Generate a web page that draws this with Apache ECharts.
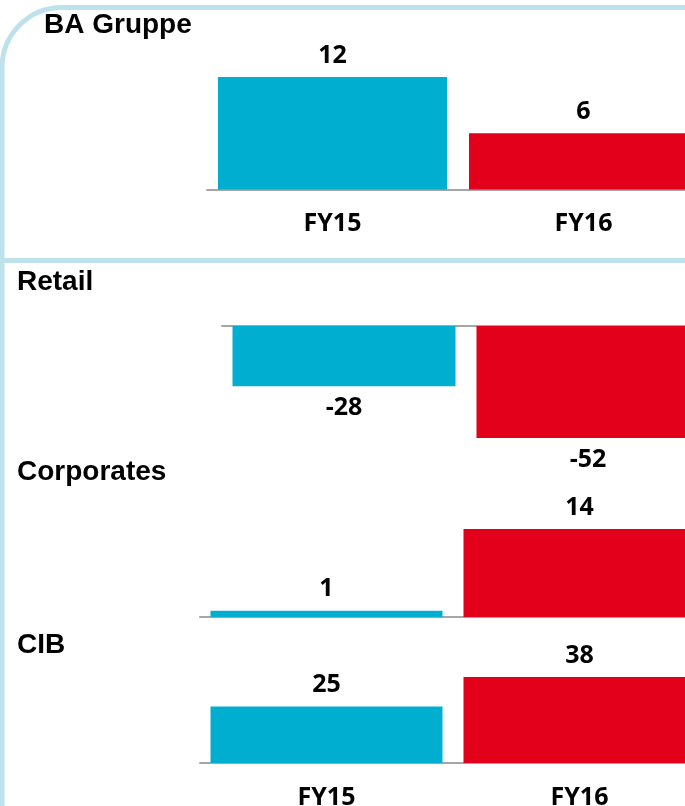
<!DOCTYPE html>
<html>
<head>
<meta charset="utf-8">
<script src="https://cdn.jsdelivr.net/npm/echarts@6/dist/echarts.min.js"></script>
<style>
  html, body {margin: 0; padding: 0; background: #fff;}
  #chart {width: 685px; height: 806px;}
</style>
</head>
<body>
<div id="chart"></div>
<script>
const categories = ["FY15", "FY16"];
const segments = ["BA Gruppe", "Retail", "Corporates", "CIB"];
const baGruppe = [12, 6];
const retail = [-28, -52];
const corporates = [1, 14];
const cib = [25, 38];

const barColors = ["#00AFD0", "#E2001A"];
const frameColor = "#BDE2EC";
const labelFont = "Open Sans";

// one small chart per segment, each with its own scale
const panels = [
    {data: baGruppe,   left: 207, width: 502, top: 77,  height: 112.5, min: 0,   max: 12, barWidth: 229, cats: true},
    {data: retail,     left: 222, width: 488, top: 326, height: 112,   min: -52, max: 0,  barWidth: 223, cats: false},
    {data: corporates, left: 200, width: 506, top: 529, height: 88,    min: 0,   max: 14, barWidth: 232, cats: false},
    {data: cib,        left: 200, width: 506, top: 677, height: 86,    min: 0,   max: 38, barWidth: 232, cats: true}
];
const titlePos = [[44, 25], [17, 282], [17, 472], [17, 645]];


function buildOption(){
    const grid = [], xAxis = [], yAxis = [], series = [];

    panels.forEach((p, i) => {
        grid.push({left: p.left, top: p.top, width: p.width, height: p.height,
                   containLabel: false, outerBoundsMode: "none"});
        xAxis.push({
            type: "category", gridIndex: i, data: categories,
            axisLine: {show: true, onZero: true, lineStyle: {color: "#A6A6A6", width: 2}},
            axisTick: {show: false},
            axisLabel: {show: p.cats, margin: 22, color: "#000", fontFamily: labelFont,
                        fontWeight: "bold", fontSize: 25}
        });
        yAxis.push({type: "value", gridIndex: i, min: p.min, max: p.max, show: false,
                    splitLine: {show: false}});
        series.push({
            type: "bar", xAxisIndex: i, yAxisIndex: i,
            data: p.data, barWidth: p.barWidth,
            itemStyle: {color: (params) => barColors[params.dataIndex]},
            label: {
                show: true, position: p.min < 0 ? "bottom" : "top", distance: 9,
                color: "#000", fontFamily: labelFont, fontWeight: "bold", fontSize: 25
            },
            animation: false
        });
    });

    const graphic = [
        // rounded panel frame
        {type: "rect", shape: {x: 2, y: 7.5, width: 900, height: 1000, r: [60, 0, 0, 0]},
         style: {fill: null, stroke: frameColor, lineWidth: 5}, z: 0},
        {type: "line", shape: {x1: 0, y1: 260.5, x2: 685, y2: 260.5},
         style: {stroke: frameColor, lineWidth: 5}, z: 0}
    ];
    segments.forEach((name, i) => {
        graphic.push({type: "text", x: titlePos[i][0], y: titlePos[i][1], z: 5,
            style: {text: name, fill: "#000", font: 'bold 28px "Liberation Sans"',
                    verticalAlign: "middle", textVerticalAlign: "middle"}});
    });

    return {animation: false, grid, xAxis, yAxis, series, graphic};
}


const chart = echarts.init(document.getElementById("chart"), null, {renderer: "canvas"});
chart.setOption(buildOption());
</script>
</body>
</html>
